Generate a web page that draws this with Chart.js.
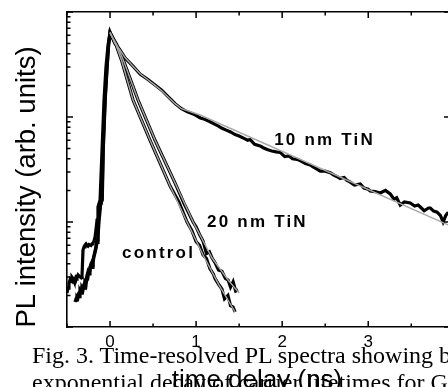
<!DOCTYPE html>
<html>
<head>
<meta charset="utf-8">
<script src="https://cdn.jsdelivr.net/npm/chart.js@4"></script>
<style>
    html, body { margin: 0; padding: 0; background: #fff; overflow: hidden; }
    #wrap { position: relative; width: 448px; height: 387px; overflow: hidden; }
    #plChart { position: absolute; left: 0; top: 0; }
    .caption {
        position: absolute; left: 32px; top: 342px;
        font: 24px/27px "Liberation Serif", "Times New Roman", serif;
        color: #000; white-space: nowrap;
    }
</style>
</head>
<body>
<div id="wrap">
    <canvas id="plChart" width="452" height="387"></canvas>
    <div class="caption">Fig. 3. Time-resolved PL spectra showing b<br>exponential decay of carrier lifetimes for G</div>
</div>
<script>
// time delay (ns) and PL intensity (arb. units)
const tControl = [-0.407, -0.395, -0.384, -0.372, -0.360, -0.349, -0.337, -0.326, -0.314, -0.302, -0.291, -0.279, -0.267, -0.256, -0.244, -0.233, -0.221, -0.209, -0.198, -0.186, -0.174, -0.163, -0.151, -0.140, -0.128, -0.116, -0.093, -0.081, -0.058, -0.035, -0.017, 0, 0.070, 0.140, 0.267, 0.465, 0.698, 0.800, 0.895, 0.950, 1.000, 1.040, 1.081, 1.120, 1.160, 1.200, 1.220, 1.267, 1.300, 1.330, 1.370, 1.400, 1.430, 1.453];
const control = [1.73, 1.85, 1.93, 2.02, 1.95, 2.15, 2.30, 2.35, 2.25, 2.55, 2.62, 2.50, 3.00, 3.34, 3.20, 3.73, 3.90, 3.70, 4.35, 4.80, 5.30, 5.90, 6.74, 10.4, 12.0, 13.9, 16.2, 48.5, 145, 300, 485, 631, 485, 334, 145, 60, 22, 15.5, 10, 8.3, 6.5, 6.0, 4.85, 4.5, 3.6, 3.2, 2.9, 2.51, 2.3, 1.85, 2.0, 1.6, 1.55, 1.39];

const t20 = [-0.395, -0.384, -0.372, -0.360, -0.349, -0.337, -0.326, -0.314, -0.302, -0.291, -0.279, -0.267, -0.256, -0.244, -0.233, -0.221, -0.209, -0.198, -0.186, -0.174, -0.163, -0.151, -0.140, -0.128, -0.110, -0.090, -0.078, -0.055, -0.033, -0.016, 0, 0.081, 0.163, 0.326, 0.523, 0.756, 0.860, 0.965, 1.000, 1.040, 1.080, 1.120, 1.155, 1.186, 1.220, 1.260, 1.300, 1.340, 1.372, 1.400, 1.430, 1.460, 1.488];
const tin20 = [1.80, 1.95, 1.90, 2.10, 2.20, 2.10, 2.40, 2.45, 2.35, 2.70, 2.80, 3.10, 3.00, 3.50, 3.60, 4.00, 4.20, 4.10, 4.70, 5.10, 5.60, 6.40, 7.20, 10.0, 14.5, 16.5, 50, 150, 305, 490, 631, 485, 334, 145, 60, 23.5, 15, 10, 9.0, 7.6, 6.6, 5.0, 5.2, 4.54, 4.1, 3.5, 3.4, 2.9, 2.8, 2.4, 2.7, 2.2, 2.25];

const t10 = [-0.500, -0.488, -0.477, -0.465, -0.453, -0.442, -0.430, -0.419, -0.407, -0.395, -0.384, -0.372, -0.360, -0.349, -0.337, -0.326, -0.314, -0.302, -0.291, -0.279, -0.267, -0.256, -0.244, -0.233, -0.221, -0.209, -0.198, -0.186, -0.174, -0.163, -0.151, -0.140, -0.116, -0.093, -0.070, -0.047, -0.023, 0,
    0.058, 0.116, 0.174, 0.267, 0.349, 0.440, 0.523, 0.600, 0.680, 0.756, 0.830, 0.900, 0.988, 1.050, 1.100, 1.163, 1.220, 1.260, 1.302, 1.350, 1.400, 1.453, 1.500, 1.550, 1.600, 1.628, 1.680, 1.744, 1.780, 1.826, 1.880, 1.930, 1.977, 2.030, 2.080, 2.120, 2.174, 2.220, 2.270, 2.326, 2.360, 2.400, 2.442, 2.500, 2.558, 2.600, 2.640, 2.674, 2.720, 2.750, 2.791, 2.840, 2.907, 2.950, 3.000, 3.023, 3.080, 3.140, 3.200, 3.256, 3.300, 3.330, 3.372, 3.420, 3.488, 3.540, 3.580, 3.605, 3.650, 3.700, 3.721, 3.760, 3.800, 3.840, 3.870, 3.900, 3.930];
const tin10 = [2.11, 2.35, 2.60, 2.81, 2.70, 2.99, 2.90, 2.75, 2.81, 3.00, 2.95, 3.13, 3.05, 3.00, 2.95, 2.99, 5.40, 5.80, 6.04, 6.20, 6.00, 5.90, 6.10, 6.04, 6.00, 6.20, 6.30, 6.60, 7.20, 8.50, 10.4, 13.9, 16.2, 48.5, 145, 300, 485, 645,
    500, 435, 365, 305, 257, 228, 202, 180, 155, 134, 120, 112, 105, 98, 95, 90, 85, 82, 78, 75, 72, 68, 66, 63, 60, 61, 55, 53, 51, 49, 47.5, 46.5, 46, 42, 42.5, 40, 39.5, 38, 36, 35, 33.5, 32, 30.5, 30.5, 29.5, 28, 27, 26, 26.5, 25, 24, 22.5, 23, 21, 20.5, 19.7, 19.5, 18.9, 20, 18.5, 16.5, 17, 14.5, 15.5, 15.2, 14.2, 14.5, 13.9, 12.8, 13.6, 13.6, 12.7, 12.4, 11.5, 10.0, 11.5, 12.4];

// fitted decays (thin grey lines)
const tFitControl = [0, 0.070, 0.140, 0.267, 0.465, 0.698, 0.895, 1.081, 1.267, 1.453];
const fitControl = [631, 485, 334, 145, 60, 22, 10, 4.85, 2.51, 1.39];
const tFit20 = [0, 0.081, 0.163, 0.326, 0.523, 0.756, 0.965, 1.186, 1.372, 1.500];
const fit20 = [631, 485, 334, 145, 60, 23.5, 10, 4.54, 2.8, 2.1];
const tFit10 = [0, 0.058, 0.116, 0.174, 0.267, 0.349, 0.440, 0.523, 0.600, 0.680, 0.756, 0.830, 1.047, 3.940];
const fit10 = [645, 500, 435, 368, 305, 258, 226, 200, 178, 153, 134, 120, 104.5, 9.3];

const xTicks = [-0.5, 0, 0.5, 1, 1.5, 2, 2.5, 3, 3.5];
const yTicks = [1, 2, 3, 4, 5, 6, 7, 8, 9, 10, 20, 30, 40, 50, 60, 70, 80, 90, 100, 200, 300, 400, 500, 600, 700, 800, 900, 1000];

const SANS = '"Liberation Sans", Arial, Helvetica, sans-serif';

function pts(ts, vs) {
    return ts.map((t, i) => ({ x: t, y: vs[i] }));
}

function dataLine(ts, vs) {
    return { data: pts(ts, vs), borderColor: '#000', borderWidth: 3.2, pointRadius: 0, tension: 0, fill: false };
}

function fitLine(ts, vs) {
    return { data: pts(ts, vs), borderColor: '#a8a8a8', borderWidth: 1.4, pointRadius: 0, tension: 0, fill: false };
}

// inward tick marks, axis titles and curve labels
const framePlugin = {
    id: 'frame',
    afterDraw(chart) {
        const { ctx, chartArea: a, scales: { x, y } } = chart;
        ctx.save();
        ctx.strokeStyle = '#000';
        ctx.lineWidth = 1.5;
        ctx.beginPath();
        x.ticks.forEach(tk => {
            const px = x.getPixelForValue(tk.value);
            const len = Number.isInteger(tk.value) ? 6 : 3.5;
            ctx.moveTo(px, a.bottom); ctx.lineTo(px, a.bottom - len);
            ctx.moveTo(px, a.top); ctx.lineTo(px, a.top + len);
        });
        y.ticks.forEach(tk => {
            const py = y.getPixelForValue(tk.value);
            const major = Math.abs(Math.log10(tk.value) - Math.round(Math.log10(tk.value))) < 1e-6;
            ctx.moveTo(a.left, py); ctx.lineTo(a.left + (major ? 6 : 3.5), py);
            if (major) { ctx.moveTo(a.right, py); ctx.lineTo(a.right - 6, py); }
        });
        ctx.stroke();

        ctx.fillStyle = '#000';
        // y title
        ctx.save();
        ctx.translate(35, 187);
        ctx.rotate(-Math.PI / 2);
        ctx.font = '27.5px ' + SANS;
        ctx.textAlign = 'center';
        ctx.textBaseline = 'alphabetic';
        ctx.fillText('PL intensity (arb. units)', 0, 0);
        ctx.restore();

        // x title
        ctx.font = '26px ' + SANS;
        ctx.textAlign = 'center';
        ctx.textBaseline = 'alphabetic';
        ctx.fillText('time delay (ns)', 257, 388);

        // curve labels anchored in data coordinates
        ctx.font = 'bold 17px ' + SANS;
        ctx.textAlign = 'left';
        if ('letterSpacing' in ctx) ctx.letterSpacing = '2.2px';
        chart.options.plugins.frame.labels.forEach(l => {
            ctx.fillText(l.text, x.getPixelForValue(l.t), y.getPixelForValue(l.v));
        });
        ctx.restore();
    }
};

const hiddenGrid = { drawOnChartArea: false, drawTicks: false };
const axisBorder = { display: true, color: '#000', width: 1.6 };

new Chart(document.getElementById('plChart'), {
    type: 'line',
    data: {
        datasets: [
            fitLine(tFitControl, fitControl),
            fitLine(tFit20, fit20),
            fitLine(tFit10, fit10),
            dataLine(tControl, control),
            dataLine(t20, tin20),
            dataLine(t10, tin10)
        ]
    },
    options: {
        responsive: false,
        animation: false,
        events: [],
        layout: { padding: { left: 0, top: 0, right: 2, bottom: 0 } },
        plugins: {
            legend: { display: false },
            tooltip: { enabled: false },
            frame: {
                labels: [
                    { text: '10 nm TiN', t: 1.907, v: 54 },
                    { text: '20 nm TiN', t: 1.128, v: 8.96 },
                    { text: 'control', t: 0.14, v: 4.54 }
                ]
            }
        },
        scales: {
            x: {
                type: 'linear', position: 'bottom', min: -0.5, max: 3.95,
                afterBuildTicks: s => { s.ticks = xTicks.map(v => ({ value: v })); },
                afterFit: s => { s.height = 60; },
                grid: hiddenGrid,
                border: axisBorder,
                ticks: {
                    autoSkip: false, maxRotation: 0, padding: 5, color: '#000',
                    font: { family: SANS, size: 17 },
                    callback: v => (Number.isInteger(v) && v >= 0) ? String(v) : ''
                }
            },
            xTop: {
                type: 'linear', position: 'top', min: -0.5, max: 3.95,
                afterBuildTicks: s => { s.ticks = xTicks.map(v => ({ value: v })); },
                afterFit: s => { s.height = 12; },
                grid: hiddenGrid,
                border: axisBorder,
                ticks: { display: false }
            },
            y: {
                type: 'logarithmic', position: 'left', min: 1, max: 1000,
                afterBuildTicks: s => { s.ticks = yTicks.map(v => ({ value: v })); },
                afterFit: s => { s.width = 67; },
                grid: hiddenGrid,
                border: axisBorder,
                ticks: { display: false }
            }
        }
    },
    plugins: [framePlugin]
});
</script>
</body>
</html>
